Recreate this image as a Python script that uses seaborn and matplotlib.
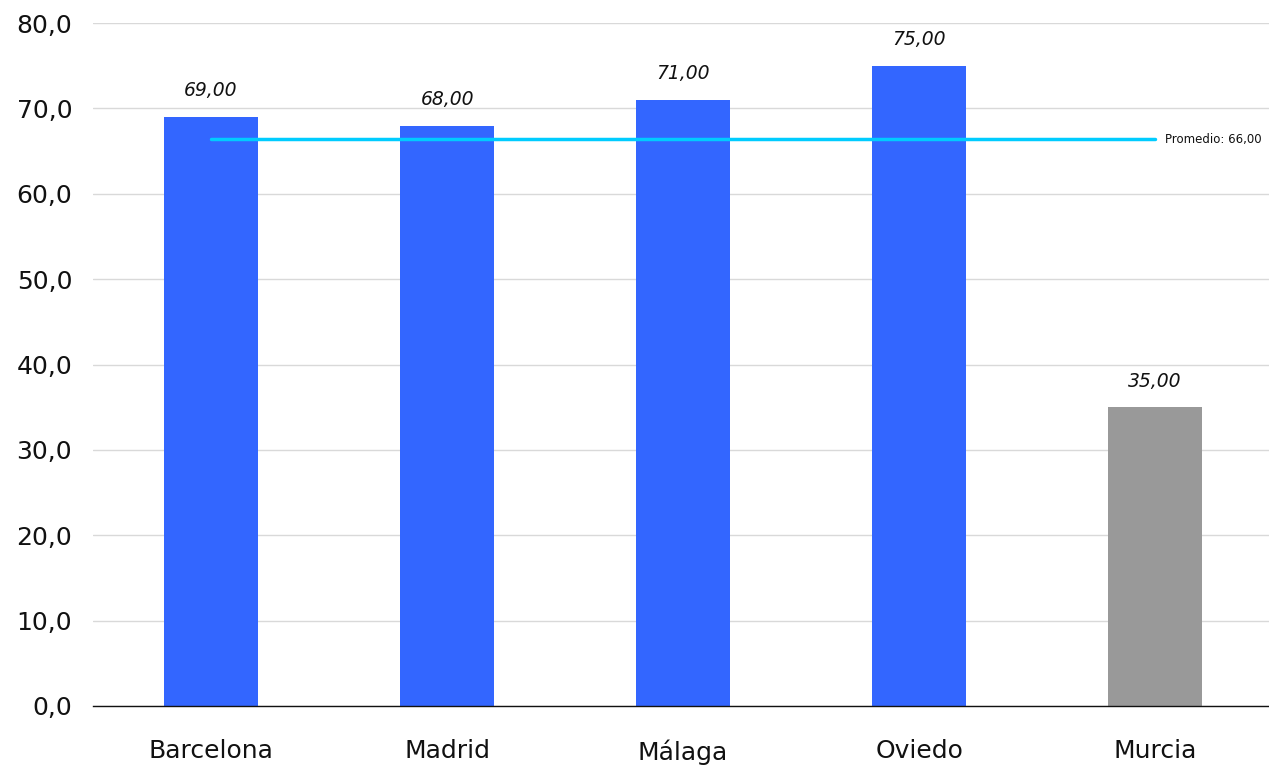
import matplotlib
matplotlib.use("Agg")
import matplotlib.pyplot as plt
import seaborn as sns
import pandas as pd

ciudades = ["Barcelona", "Madrid", "Málaga", "Oviedo", "Murcia"]
valores = [69, 68, 71, 75, 35]
colores = ["#3366ff", "#3366ff", "#3366ff", "#3366ff", "#999999"]
promedio = 66.0

df = pd.DataFrame({"ciudad": ciudades, "valor": valores})

sns.set_style("white")
plt.rcParams["font.family"] = ["DejaVu Sans"]

fig = plt.figure(figsize=(12.69, 7.69), dpi=100)
ax = fig.add_axes([0.0733, 0.082, 0.93, 0.888])

sns.barplot(data=df, x="ciudad", y="valor", hue="ciudad", palette=colores,
            width=0.4, legend=False, ax=ax, saturation=1, linewidth=0)

for i, v in enumerate(valores):
    ax.annotate(f"{v:.2f}".replace(".", ","), (i, v), xytext=(0, 12),
                textcoords="offset points", ha="center", va="bottom",
                fontsize=13.5, style="italic", color="#111111")

# línea de promedio
ax.plot([0, len(ciudades) - 1], [promedio + 0.4, promedio + 0.4],
        color="#00ccff", linewidth=2.5, zorder=3)
ax.annotate(f"Promedio: {promedio:.2f}".replace(".", ","),
            (len(ciudades) - 1, promedio + 0.4), xytext=(7, 0),
            textcoords="offset points", ha="left", va="center",
            fontsize=8.5, color="#111111", annotation_clip=False)

ax.set_ylim(0, 80)
ax.set_xlim(-0.5, len(ciudades) - 0.5)
ax.set_yticks(range(0, 81, 10))
ax.set_yticklabels([f"{t:.1f}".replace(".", ",") for t in range(0, 81, 10)])
ax.yaxis.grid(True, color="#d9d9d9", linewidth=1)
ax.set_axisbelow(True)
ax.tick_params(axis="y", length=0, pad=15, labelsize=18, labelcolor="#111111")
ax.tick_params(axis="x", length=0, pad=24, labelsize=18, labelcolor="#111111")
ax.set_xlabel("")
ax.set_ylabel("")
for s in ["top", "right", "left"]:
    ax.spines[s].set_visible(False)
ax.spines["bottom"].set_color("#111111")
ax.spines["bottom"].set_linewidth(1)

fig.savefig("out.png", dpi=100)
